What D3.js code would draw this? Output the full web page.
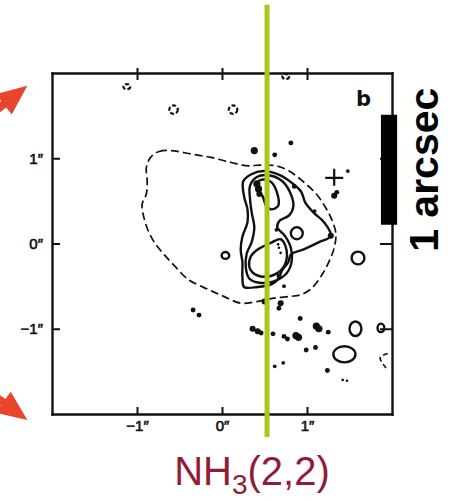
<!DOCTYPE html>
<html>
<head>
<meta charset="utf-8">
<script src="https://cdnjs.cloudflare.com/ajax/libs/d3/7.8.5/d3.min.js"></script>
<style>
  body { margin: 0; background: #fff; }
  svg { display: block; }
</style>
</head>
<body>
<svg width="455" height="501"></svg>
<script>
// axis ticks, arcsec offsets
var tickVals = [-1, 0, 1];

// lowest level (dashed) contour, [x, y] in arcsec
var dashedContour = [[-0.84,1.01],[-0.74,1.08],[-0.60,1.09],[-0.36,1.05],[-0.13,1.01],[0.11,0.95],[0.31,0.91],[0.44,0.92],[0.64,0.91],[0.79,0.85],[0.95,0.73],[1.11,0.58],[1.22,0.42],[1.30,0.26],[1.34,0.11],[1.32,-0.05],[1.26,-0.21],[1.18,-0.36],[1.06,-0.52],[0.93,-0.60],[0.81,-0.62],[0.61,-0.64],[0.42,-0.68],[0.22,-0.70],[0.02,-0.62],[-0.16,-0.54],[-0.40,-0.42],[-0.56,-0.26],[-0.68,-0.13],[-0.78,-0.01],[-0.86,0.13],[-0.92,0.31],[-0.94,0.46],[-0.89,0.58],[-0.88,0.73],[-0.89,0.89]];

// solid contours
var contourOuter = [[0.25,0.73],[0.34,0.81],[0.49,0.85],[0.66,0.81],[0.81,0.72],[0.93,0.61],[0.98,0.48],[1.08,0.36],[1.20,0.25],[1.28,0.09],[1.13,0.01],[0.96,-0.07],[0.81,-0.13],[0.78,-0.22],[0.71,-0.31],[0.66,-0.42],[0.58,-0.48],[0.42,-0.51],[0.26,-0.51],[0.24,-0.39],[0.24,-0.22],[0.22,-0.07],[0.24,0.08],[0.30,0.25],[0.30,0.40],[0.26,0.55]];
var contourMid = [[0.33,0.68],[0.41,0.78],[0.55,0.80],[0.71,0.73],[0.80,0.60],[0.84,0.44],[0.79,0.33],[0.68,0.27],[0.65,0.19],[0.74,0.09],[0.81,-0.05],[0.82,-0.21],[0.76,-0.35],[0.62,-0.44],[0.44,-0.46],[0.32,-0.41],[0.28,-0.28],[0.29,-0.12],[0.35,0.02],[0.38,0.19],[0.35,0.36],[0.33,0.52]];
var contourTop = [[0.42,0.72],[0.49,0.75],[0.58,0.72],[0.66,0.55],[0.66,0.44],[0.58,0.40],[0.52,0.44],[0.48,0.55],[0.42,0.64]];
var contourLow = [[0.34,-0.15],[0.42,-0.07],[0.58,0.01],[0.69,0.05],[0.75,-0.04],[0.75,-0.22],[0.66,-0.34],[0.49,-0.39],[0.36,-0.34],[0.32,-0.27]];

// small closed loops [cx, cy, rx, ry]
var solidLoops = [[0.88,0.12,0.07,0.07],[1.60,-0.17,0.075,0.075],[0.04,-0.14,0.045,0.04],[1.57,-1.00,0.07,0.085],[1.44,-1.30,0.13,0.095],[1.87,-0.99,0.04,0.05]];
var dashedLoops = [[-1.12,1.84,0.04,0.03],[-0.57,1.57,0.05,0.05],[0.13,1.57,0.05,0.05],[0.75,1.96,0.04,0.03]];
var dashedArc = [[1.95,-1.29],[1.86,-1.34],[1.93,-1.46]];

// compact peaks [x, y, weight]
var peaks = [[0.38,1.09,3],[0.62,1.04,2],[0.81,1.18,2],[1.48,0.85,1.5],[0.85,0.67,2],[1.09,0.38,1.5],[1.28,0.09,2.5],[0.64,0.16,1.5],[0.66,-0.01,1],[0.67,-0.05,1],[0.69,-0.11,1],[0.67,-0.38,2],[0.73,-0.50,1.5],[0.50,-0.68,2.5],[0.69,-0.70,2.5],[0.67,-0.76,2],[-0.34,-0.78,2],[-0.27,-0.84,2],[0.92,-0.88,2],[0.36,-1.00,2.5],[0.42,-1.03,2.5],[0.46,-1.05,2],[0.60,-1.06,2],[0.73,-1.09,2],[0.77,-1.12,2],[0.87,-1.08,3],[0.90,-1.10,3],[1.11,-0.97,3],[1.14,-1.00,3],[1.25,-1.04,2],[0.99,-1.25,2],[1.10,-1.22,2],[0.62,-1.44,1.5],[0.72,-1.40,1.5],[1.24,-1.49,2],[1.42,-1.60,1],[1.47,-1.61,1],[0.41,0.70,3],[0.43,0.64,3],[0.44,0.58,2.5],[1.32,0.56,2.5],[1.35,0.60,2]];

// cross marker
var crossPos = [1.32, 0.77];

// slit position (arcsec) and its vertical extent
var slitX = 0.53;
var slitY = [2.8, -2.27];

// scale bar ends
var barX = [1.87, 2.06];
var barY = [1.51, 0.22];

// arrow tips [x, y, angle deg]
var arrows = [[-2.29, 1.85, -38], [-2.29, -2.07, 36]];

var svg = d3.select("svg");

var x = d3.scaleLinear().domain([-2, 2]).range([52, 392]);
var y = d3.scaleLinear().domain([-2, 2]).range([414, 73]);
var r = d3.scaleLinear().domain([1, 3]).range([1.3, 3.6]);

var fmt = function(d) { return (d < 0 ? "\u2212" : "") + Math.abs(d) + "\u2033"; };

var ringLine = d3.line()
    .x(function(d) { return x(d[0]); })
    .y(function(d) { return y(d[1]); })
    .curve(d3.curveCatmullRomClosed.alpha(0.5));
var arcLine = d3.line()
    .x(function(d) { return x(d[0]); })
    .y(function(d) { return y(d[1]); })
    .curve(d3.curveCatmullRom.alpha(0.5));

// axes frame
var axes = svg.append("g").attr("class", "axes");
axes.append("g").attr("transform", "translate(52,0)")
    .call(d3.axisLeft(y).tickValues(tickVals).tickSize(-8).tickSizeOuter(0).tickPadding(9).tickFormat(fmt));
axes.append("g").attr("transform", "translate(0,414)")
    .call(d3.axisBottom(x).tickValues(tickVals).tickSize(-7).tickSizeOuter(0).tickPadding(6).tickFormat(fmt));
var topAx = axes.append("g").attr("transform", "translate(0,73)")
    .call(d3.axisTop(x).tickValues(tickVals).tickSize(-7).tickSizeOuter(0).tickFormat(""));
topAx.selectAll(".tick line").attr("y1", -5);
axes.append("g").attr("transform", "translate(392,0)")
    .call(d3.axisRight(y).tickValues(tickVals).tickSize(-12).tickSizeOuter(0).tickFormat(""));

axes.selectAll(".domain").attr("stroke", "#111").attr("stroke-width", 2.4).attr("stroke-linecap", "square");
axes.selectAll(".tick line").attr("stroke", "#111").attr("stroke-width", 2);
axes.selectAll(".tick text")
    .attr("fill", "#111")
    .style("font-family", "'Liberation Sans', Arial, sans-serif")
    .style("font-size", "15px")
    .style("stroke", "#111").style("stroke-width", 0.6);

// contours
var cont = svg.append("g").attr("fill", "none").attr("stroke", "#111");
cont.append("path").attr("d", ringLine(dashedContour))
    .attr("stroke-width", 1.7).attr("stroke-dasharray", "8,4");
[contourOuter, contourMid, contourTop, contourLow].forEach(function(c) {
    cont.append("path").attr("d", ringLine(c)).attr("stroke-width", 2.4);
});
cont.selectAll("ellipse.solid").data(solidLoops).enter().append("ellipse")
    .attr("class", "solid")
    .attr("cx", function(d) { return x(d[0]); })
    .attr("cy", function(d) { return y(d[1]); })
    .attr("rx", function(d) { return x(d[2]) - x(0); })
    .attr("ry", function(d) { return y(0) - y(d[3]); })
    .attr("stroke-width", 2.4);
cont.selectAll("ellipse.dash").data(dashedLoops).enter().append("ellipse")
    .attr("class", "dash")
    .attr("cx", function(d) { return x(d[0]); })
    .attr("cy", function(d) { return y(d[1]); })
    .attr("rx", function(d) { return x(d[2]) - x(0); })
    .attr("ry", function(d) { return y(0) - y(d[3]); })
    .attr("stroke-width", 2.2).attr("stroke-dasharray", "4,2");
cont.append("path").attr("d", arcLine(dashedArc))
    .attr("stroke-width", 1.7).attr("stroke-dasharray", "5,3");

// cross
cont.append("path")
    .attr("d", "M" + (x(crossPos[0]) - 9) + "," + y(crossPos[1]) + "h18M" + x(crossPos[0]) + "," + (y(crossPos[1]) - 9) + "v17")
    .attr("stroke-width", 2.2);

// peaks
svg.append("g").selectAll("circle").data(peaks).enter().append("circle")
    .attr("cx", function(d) { return x(d[0]); })
    .attr("cy", function(d) { return y(d[1]); })
    .attr("r", function(d) { return r(d[2]); })
    .attr("fill", "#111");

// slit
svg.append("line")
    .attr("x1", x(slitX)).attr("x2", x(slitX))
    .attr("y1", y(slitY[0])).attr("y2", y(slitY[1]))
    .attr("stroke", "#a5c91b").attr("stroke-width", 5);

// scale bar
svg.append("rect")
    .attr("x", x(barX[0])).attr("y", y(barY[0]))
    .attr("width", x(barX[1]) - x(barX[0]))
    .attr("height", y(barY[1]) - y(barY[0]))
    .attr("fill", "#000");
svg.append("text")
    .attr("transform", "translate(438," + (y(barY[0]) + y(barY[1])) / 2 + ") rotate(-90)")
    .attr("text-anchor", "middle")
    .style("font-family", "'Liberation Sans', Arial, sans-serif")
    .style("font-weight", "bold")
    .style("font-size", "41px")
    .text("1 arcsec");

// panel letter
svg.append("text")
    .attr("x", 356).attr("y", 106)
    .style("font-family", "'DejaVu Sans', sans-serif")
    .style("font-weight", "bold")
    .style("font-size", "21px")
    .attr("fill", "#111")
    .text("b");

// arrows
var arrowShape = [[0,0],[-30,-13],[-30,-4],[-70,-4],[-70,4],[-30,4],[-30,13]];
svg.append("g").selectAll("polygon").data(arrows).enter().append("polygon")
    .attr("transform", function(d) { return "translate(" + x(d[0]) + "," + y(d[1]) + ") rotate(" + d[2] + ")"; })
    .attr("points", arrowShape.map(function(p) { return p.join(","); }).join(" "))
    .attr("fill", "#e8452c");

// line label
var lbl = svg.append("text")
    .attr("x", 252).attr("y", 485)
    .attr("text-anchor", "middle")
    .attr("fill", "#921c38")
    .style("font-family", "'Liberation Sans', Arial, sans-serif")
    .style("font-size", "40px");
lbl.append("tspan").text("NH");
lbl.append("tspan").attr("dy", 9).style("font-size", "28px").text("3");
lbl.append("tspan").attr("dy", -9).text("(2,2)");
</script>
</body>
</html>
